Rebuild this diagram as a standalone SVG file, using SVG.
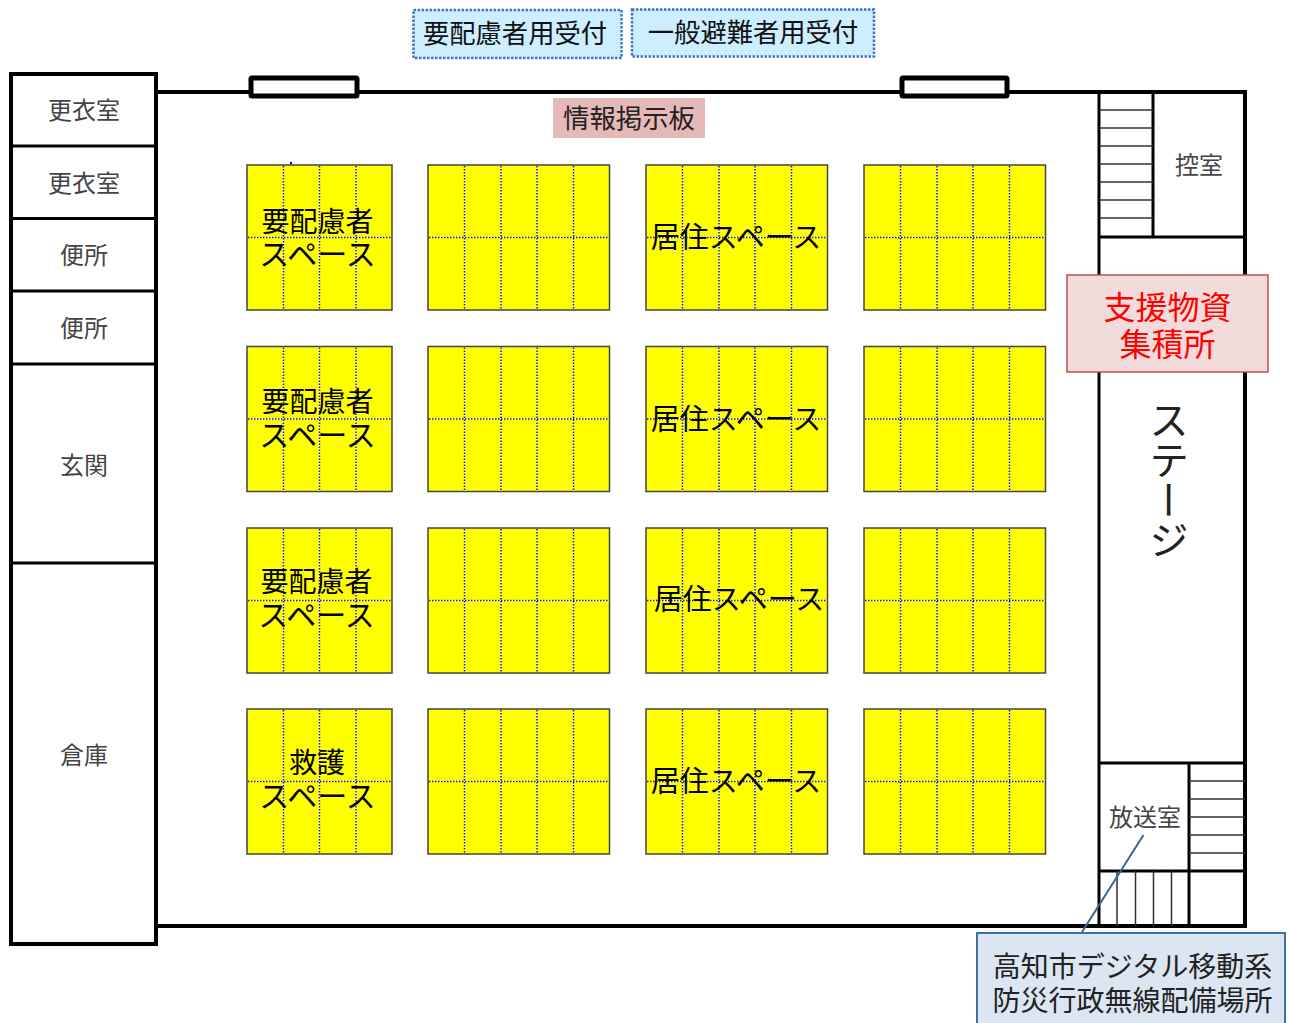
<svg xmlns="http://www.w3.org/2000/svg" xmlns:xlink="http://www.w3.org/1999/xlink" width="1289" height="1023" viewBox="0 0 1289 1023">
<style>
text{font-family:"Noto Sans CJK JP","Noto Sans CJK SC",sans-serif;font-weight:400;text-anchor:middle;dominant-baseline:central}
.wall{fill:none;stroke:#000;stroke-width:4}
.thin{fill:none;stroke:#000;stroke-width:3}
.step{fill:none;stroke:#333;stroke-width:1.500}
.cell{fill:#ff0;stroke:#444;stroke-width:1.500}
.gridbg{fill:none;stroke:#fff;stroke-width:1.500}
.grid{fill:none;stroke:#222;stroke-width:1.500;stroke-dasharray:1.500 1.500}
.room{font-size:24px;fill:#444}
.space{font-size:28px;fill:#000}
.kana{font-size:30px;fill:#000}
.live{font-size:29px;fill:#000}
.door{fill:#fff;stroke:#000;stroke-width:5}
</style>
<defs>
<g id="narrow"><rect class="cell" width="145" height="145"/><path class="gridbg" d="M36.500 1V144M72.500 1V144M109 1V144M1 72.500H144"/><path class="grid" d="M36.500 1V144M72.500 1V144M109 1V144M1 72.500H144"/></g>
<g id="wide"><rect class="cell" width="181.500" height="145"/><path class="gridbg" d="M36.500 1V144M73 1V144M109 1V144M145.500 1V144M1 72.500H180.500"/><path class="grid" d="M36.500 1V144M73 1V144M109 1V144M145.500 1V144M1 72.500H180.500"/></g>
</defs>
<rect width="1289" height="1023" fill="#fff"/>
<g id="hall">
<path class="wall" d="M156 92H1245V926H156"/>
<rect class="door" x="251" y="78" width="106" height="18" rx="1"/>
<rect class="door" x="902" y="78" width="105" height="18" rx="1"/>
</g>
<g id="left-rooms">
<rect class="wall" x="11" y="74" width="145" height="870"/>
<path class="thin" d="M11 146H156M11 218.500H156M11 291H156M11 364H156M11 563H156"/>
</g>
<g id="room-koui1"><text class="room" x="84" y="108.500">更衣室</text></g>
<g id="room-koui2"><text class="room" x="84" y="181.500">更衣室</text></g>
<g id="room-benjo1"><text class="room" x="84" y="253.500">便所</text></g>
<g id="room-benjo2"><text class="room" x="84" y="326.500">便所</text></g>
<g id="room-genkan"><text class="room" x="84" y="463.500">玄関</text></g>
<g id="room-souko"><text class="room" x="84" y="753.500">倉庫</text></g>
<g id="stage-area">
<path class="thin" d="M1099 92V926M1099 237H1245M1153 92V237M1099 763H1245M1189 763V926M1099 871H1245"/>
<path class="step" d="M1099 110H1153M1099 128H1153M1099 146H1153M1099 164H1153M1099 182H1153M1099 200H1153M1099 218H1153"/>
<path class="step" d="M1189 781H1245M1189 799H1245M1189 817H1245M1189 835H1245M1189 853H1245"/>
<path class="step" d="M1117 871V926M1135.500 871V926M1153.500 871V926M1171.500 871V926"/>
</g>
<g id="room-hikae"><text class="room" x="1199" y="163.500">控室</text></g>
<g id="room-housou"><text class="room" x="1145" y="815.500">放送室</text></g>
<g id="stage"><text x="1169" y="400" font-size="40" fill="#222" style="writing-mode:vertical-rl;text-anchor:start;dominant-baseline:auto">ステージ</text></g>
<g id="row1">
<use xlink:href="#narrow" href="#narrow" x="247" y="165"/><use xlink:href="#wide" href="#wide" x="428" y="165"/><use xlink:href="#wide" href="#wide" x="646" y="165"/><use xlink:href="#wide" href="#wide" x="864" y="165"/>
<circle cx="291" cy="163" r="1.200" fill="#00f"/>
<text class="space" x="317.500" y="219.500">要配慮者</text><text class="kana" x="317.500" y="252">スペース</text><text class="live" x="736" y="235">居住スペース</text>
</g>
<g id="row2">
<use xlink:href="#narrow" href="#narrow" x="247" y="346.500"/><use xlink:href="#wide" href="#wide" x="428" y="346.500"/><use xlink:href="#wide" href="#wide" x="646" y="346.500"/><use xlink:href="#wide" href="#wide" x="864" y="346.500"/>
<text class="space" x="317.500" y="399.500">要配慮者</text><text class="kana" x="317.500" y="433">スペース</text><text class="live" x="736" y="417">居住スペース</text>
</g>
<g id="row3">
<use xlink:href="#narrow" href="#narrow" x="247" y="528"/><use xlink:href="#wide" href="#wide" x="428" y="528"/><use xlink:href="#wide" href="#wide" x="646" y="528"/><use xlink:href="#wide" href="#wide" x="864" y="528"/>
<text class="space" x="316.500" y="579.500">要配慮者</text><text class="kana" x="316.500" y="613">スペース</text><text class="live" x="739" y="597">居住スペース</text>
</g>
<g id="row4">
<use xlink:href="#narrow" href="#narrow" x="247" y="709"/><use xlink:href="#wide" href="#wide" x="428" y="709"/><use xlink:href="#wide" href="#wide" x="646" y="709"/><use xlink:href="#wide" href="#wide" x="864" y="709"/>
<text class="space" x="317" y="760.500">救護</text><text class="kana" x="317.500" y="794">スペース</text><text class="live" x="736" y="779">居住スペース</text>
</g>
<g id="reception-care">
<rect x="413.500" y="10" width="208" height="48" fill="#cceeff" stroke="#4472c4" stroke-width="2.500" stroke-dasharray="2.500 1.500"/>
<text x="515" y="31.500" font-size="26.300" fill="#111">要配慮者用受付</text>
</g>
<g id="reception-general">
<rect x="632" y="9.500" width="242" height="47" fill="#cceeff" stroke="#4472c4" stroke-width="2.500" stroke-dasharray="2.500 1.500"/>
<text x="753" y="30.500" font-size="26.300" fill="#111">一般避難者用受付</text>
</g>
<g id="board">
<rect x="553" y="98" width="152" height="40" fill="#e6b8b7"/>
<text x="629" y="116.500" font-size="26.400" fill="#222">情報掲示板</text>
</g>
<g id="supplies">
<rect x="1067" y="275" width="201" height="97" fill="#f2dcdb" stroke="#c0504d" stroke-width="1.500"/>
<text x="1167.500" y="305" font-size="32" fill="#f00">支援物資</text>
<text x="1167.500" y="342" font-size="32" fill="#f00">集積所</text>
</g>
<g id="connectors">
<path d="M1143.500 835L1082 932" fill="none" stroke="#3b6491" stroke-width="2"/>
</g>
<g id="radio-callout">
<rect x="977" y="933" width="308" height="100" fill="#dce6f2" stroke="#41719c" stroke-width="2"/>
<text x="1132.500" y="965" font-size="28" fill="#222">高知市デジタル移動系</text>
<text x="1132.500" y="999" font-size="28" fill="#222">防災行政無線配備場所</text>
</g>
</svg>
